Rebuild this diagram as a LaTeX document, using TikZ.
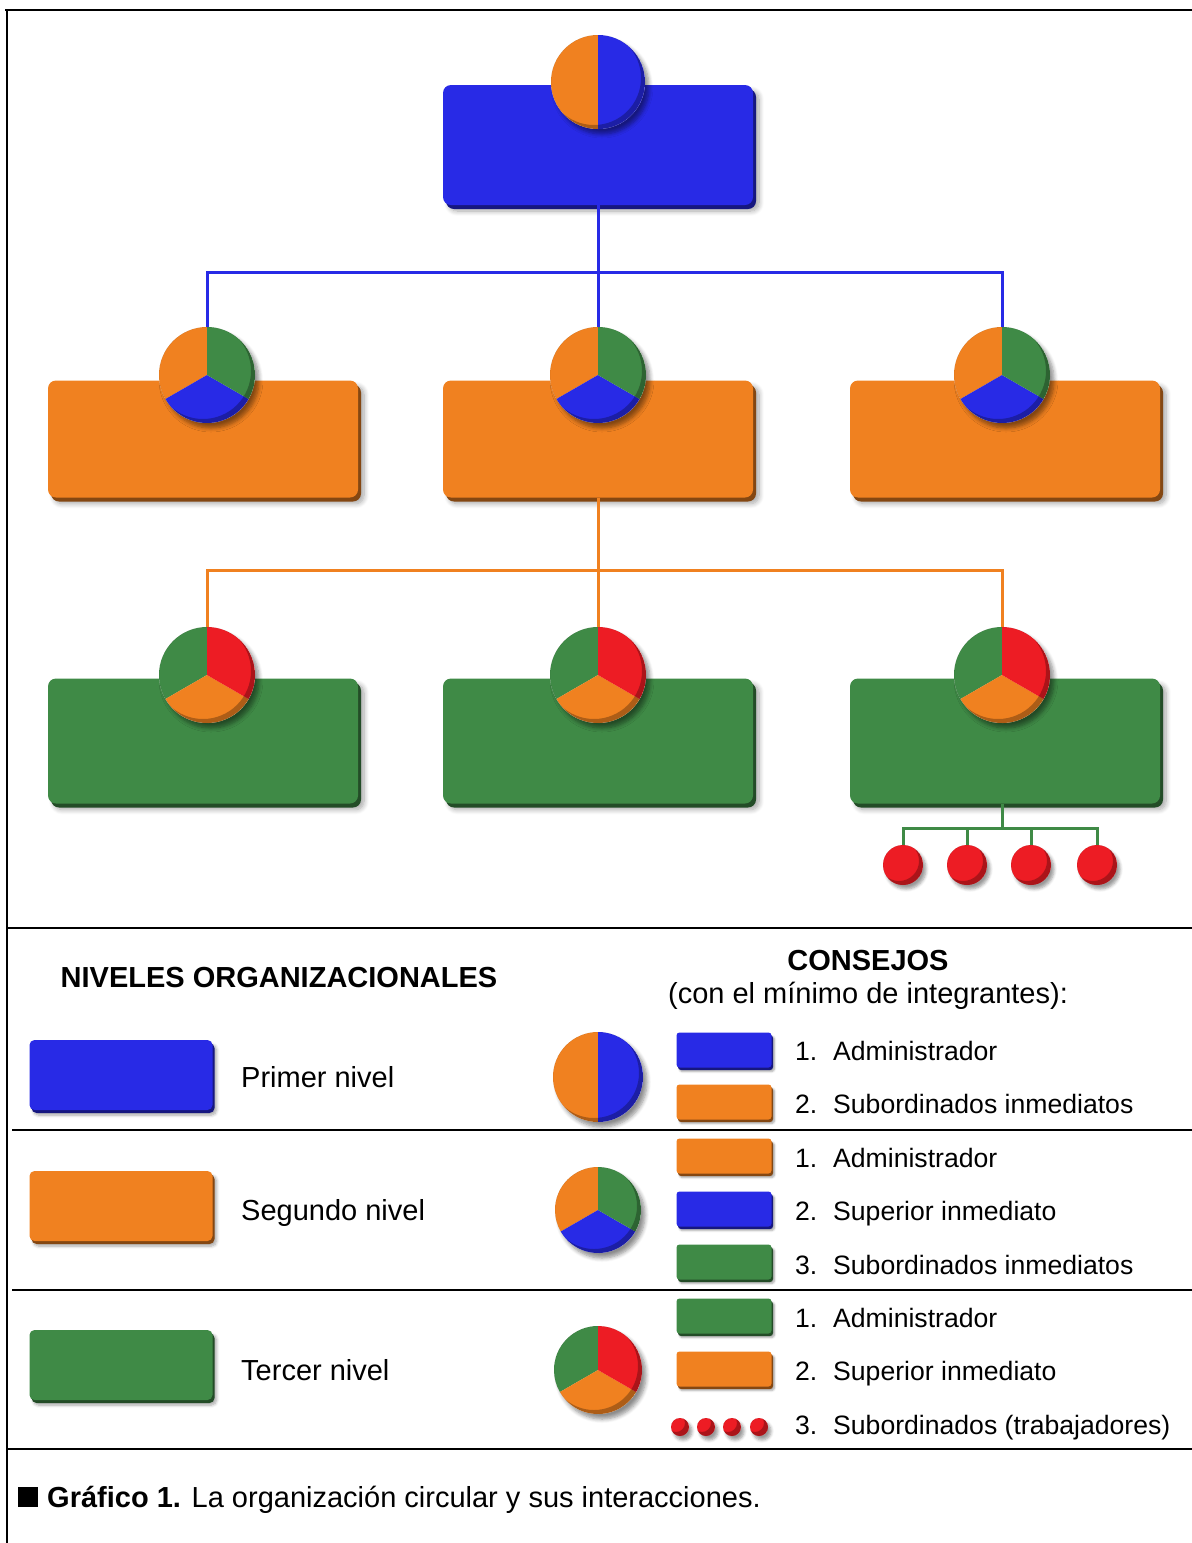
\documentclass[tikz,border=0pt]{standalone}
\usepackage{fontspec}
\setmainfont{Liberation Sans}
\usetikzlibrary{shadows,shadows.blur}
\definecolor{cBlue}{RGB}{40,42,230}
\definecolor{cOrange}{RGB}{240,129,32}
\definecolor{cGreen}{RGB}{63,138,70}
\definecolor{cRed}{RGB}{237,28,36}

% dark rim on the lower right of a round marker
\newcommand{\piebevel}[2]{%
  \begin{scope}
    \clip (#1.center) circle[radius=#2];
    \fill[black,opacity=.28,even odd rule] (#1.center) circle[radius=#2]
      ([shift={(-4,4)}]#1.center) circle[radius=#2];
  \end{scope}}
% two-part marker: left half, right half
\newcommand{\pietwo}[4]{%
  \fill[#3] (#1.center) -- ++(90:#2) arc[start angle=90,end angle=270,radius=#2] -- cycle;
  \fill[#4] (#1.center) -- ++(-90:#2) arc[start angle=-90,end angle=90,radius=#2] -- cycle;
  \piebevel{#1}{#2}}
% three-part marker: upper left, bottom, upper right
\newcommand{\piethree}[5]{%
  \fill[#3] (#1.center) -- ++(90:#2) arc[start angle=90,end angle=210,radius=#2] -- cycle;
  \fill[#4] (#1.center) -- ++(210:#2) arc[start angle=210,end angle=330,radius=#2] -- cycle;
  \fill[#5] (#1.center) -- ++(-30:#2) arc[start angle=-30,end angle=90,radius=#2] -- cycle;
  \piebevel{#1}{#2}}

\begin{document}
\begin{tikzpicture}[x=1pt,y=1pt,
  frame/.style={line width=2.4pt,black},
  link/.style={line width=3pt},
  big/.style={font=\fontsize{29}{34}\selectfont,inner sep=0pt},
  small/.style={font=\fontsize{26.6}{31}\selectfont,inner sep=0pt},
  softshadow/.style={blur shadow={shadow xshift=6pt,shadow yshift=-6pt,
      shadow blur radius=5pt,shadow blur steps=8,shadow opacity=35}},
  unitbox/.style={rounded corners=8pt,inner sep=0pt,softshadow,
      general shadow={fill=#1!55!black,shadow xshift=3pt,shadow yshift=-4pt},
      fill=#1},
  keybox/.style={rounded corners=5pt,inner sep=0pt,
      blur shadow={shadow xshift=4pt,shadow yshift=-5pt,shadow blur radius=3pt,
      shadow blur steps=6,shadow opacity=35},
      general shadow={fill=#1!55!black,shadow xshift=2pt,shadow yshift=-3pt},
      fill=#1,minimum width=183pt,minimum height=70pt},
  chip/.style={rounded corners=3pt,inner sep=0pt,
      blur shadow={shadow xshift=3pt,shadow yshift=-4pt,shadow blur radius=2pt,
      shadow blur steps=5,shadow opacity=35},
      general shadow={fill=#1!55!black,shadow xshift=1.5pt,shadow yshift=-2.5pt},
      fill=#1,minimum width=95pt,minimum height=35pt},
  pienode/.style={circle,inner sep=0pt,fill=white,
      blur shadow={shadow xshift=4pt,shadow yshift=-5pt,shadow blur radius=4pt,
      shadow blur steps=6,shadow opacity=45}},
  dotnode/.style={circle,inner sep=0pt,fill=cRed,
      blur shadow={shadow xshift=3pt,shadow yshift=-4pt,shadow blur radius=3pt,
      shadow blur steps=5,shadow opacity=40}},
]
\useasboundingbox (0,0) rectangle (1192,-1543);

% ---------- frame ----------
\draw[frame] (5,-10) -- (1192,-10);
\draw[frame] (7,-10) -- (7,-1543);
\draw[frame] (7,-928) -- (1192,-928);
\draw[frame] (12,-1130) -- (1192,-1130);
\draw[frame] (12,-1290) -- (1192,-1290);
\draw[frame] (7,-1449) -- (1192,-1449);

% ---------- organisation chart ----------
\node[unitbox=cBlue,minimum width=310pt,minimum height=120pt] (top) at (598,-145) {};

\node[unitbox=cOrange,minimum width=310pt,minimum height=117pt] (b21) at (203,-439) {};
\node[unitbox=cOrange,minimum width=310pt,minimum height=117pt] (b22) at (598,-439) {};
\node[unitbox=cOrange,minimum width=310pt,minimum height=117pt] (b23) at (1005,-439) {};

\node[unitbox=cGreen,minimum width=310pt,minimum height=125pt] (b31) at (203,-741) {};
\node[unitbox=cGreen,minimum width=310pt,minimum height=125pt] (b32) at (598,-741) {};
\node[unitbox=cGreen,minimum width=310pt,minimum height=125pt] (b33) at (1005,-741) {};

\node[pienode,minimum size=94pt] (p0) at (598,-82) {};
\pietwo{p0}{47}{cOrange}{cBlue}

\node[pienode,minimum size=96pt] (p21) at (207,-375) {};
\node[pienode,minimum size=96pt] (p22) at (598,-375) {};
\node[pienode,minimum size=96pt] (p23) at (1002,-375) {};
\piethree{p21}{48}{cOrange}{cBlue}{cGreen}
\piethree{p22}{48}{cOrange}{cBlue}{cGreen}
\piethree{p23}{48}{cOrange}{cBlue}{cGreen}

\node[pienode,minimum size=96pt] (p31) at (207,-675) {};
\node[pienode,minimum size=96pt] (p32) at (598,-675) {};
\node[pienode,minimum size=96pt] (p33) at (1002,-675) {};
\piethree{p31}{48}{cGreen}{cOrange}{cRed}
\piethree{p32}{48}{cGreen}{cOrange}{cRed}
\piethree{p33}{48}{cGreen}{cOrange}{cRed}

\node[dotnode,minimum size=40pt] (r1) at (903,-865) {};
\node[dotnode,minimum size=40pt] (r2) at (967,-865) {};
\node[dotnode,minimum size=40pt] (r3) at (1031,-865) {};
\node[dotnode,minimum size=40pt] (r4) at (1097,-865) {};
\piebevel{r1}{20}\piebevel{r2}{20}\piebevel{r3}{20}\piebevel{r4}{20}

% junctions of the connector trees
\coordinate (jb) at (598,-272);
\coordinate (jo) at (598,-570);
\coordinate (jg) at (1002,-828);

\draw[link,cBlue] (top.south) -- (p22.north);
\draw[link,cBlue] (p21.north) |- (jb) -| (p23.north);
\draw[link,cOrange] (b22.south) -- (p32.north);
\draw[link,cOrange] (p31.north) |- (jo) -| (p33.north);
\draw[link,cGreen] (jg |- b33.south) -- (jg);
\draw[link,cGreen] (r1.north) |- (jg) -| (r4.north);
\draw[link,cGreen] (r2.north) -- (r2.north |- jg);
\draw[link,cGreen] (r3.north) -- (r3.north |- jg);

% ---------- key ----------
\node[big,anchor=base] (hniv) at (279,-987) {\bfseries NIVELES ORGANIZACIONALES};
\node[big,anchor=base] (hcons) at (868,-970) {\bfseries CONSEJOS};
\node[big,anchor=base] (hcons2) at (868,-1003) {(con el mínimo de integrantes):};

\node[keybox=cBlue] (k1) at (121,-1075) {};
\node[keybox=cOrange] (k2) at (121,-1206) {};
\node[keybox=cGreen] (k3) at (121,-1365) {};
\node[big,anchor=base west] (l1) at (241,-1087) {Primer nivel};
\node[big,anchor=base west] (l2) at (241,-1220) {Segundo nivel};
\node[big,anchor=base west] (l3) at (241,-1380) {Tercer nivel};

\node[pienode,minimum size=90pt] (q1) at (598,-1077) {};
\pietwo{q1}{45}{cOrange}{cBlue}
\node[pienode,minimum size=86pt] (q2) at (598,-1210) {};
\piethree{q2}{43}{cOrange}{cBlue}{cGreen}
\node[pienode,minimum size=88pt] (q3) at (598,-1370) {};
\piethree{q3}{44}{cGreen}{cOrange}{cRed}

\node[chip=cBlue]   (c1) at (724,-1050) {};
\node[chip=cOrange] (c2) at (724,-1102) {};
\node[chip=cOrange] (c3) at (724,-1156) {};
\node[chip=cBlue]   (c4) at (724,-1209) {};
\node[chip=cGreen]  (c5) at (724,-1262) {};
\node[chip=cGreen]  (c6) at (724,-1316) {};
\node[chip=cOrange] (c7) at (724,-1369) {};
\node[dotnode,minimum size=18pt] (d1) at (680,-1427) {};
\node[dotnode,minimum size=18pt] (d2) at (706,-1427) {};
\node[dotnode,minimum size=18pt] (d3) at (732,-1427) {};
\node[dotnode,minimum size=18pt] (d4) at (759,-1427) {};
\piebevel{d1}{9}\piebevel{d2}{9}\piebevel{d3}{9}\piebevel{d4}{9}

\node[small,anchor=base west] (t1) at (795,-1060) {\makebox[38pt][l]{1.}Administrador};
\node[small,anchor=base west] (t2) at (795,-1113) {\makebox[38pt][l]{2.}Subordinados inmediatos};
\node[small,anchor=base west] (t3) at (795,-1167) {\makebox[38pt][l]{1.}Administrador};
\node[small,anchor=base west] (t4) at (795,-1220) {\makebox[38pt][l]{2.}Superior inmediato};
\node[small,anchor=base west] (t5) at (795,-1274) {\makebox[38pt][l]{3.}Subordinados inmediatos};
\node[small,anchor=base west] (t6) at (795,-1327) {\makebox[38pt][l]{1.}Administrador};
\node[small,anchor=base west] (t7) at (795,-1380) {\makebox[38pt][l]{2.}Superior inmediato};
\node[small,anchor=base west] (t8) at (795,-1434) {\makebox[38pt][l]{3.}Subordinados (trabajadores)};

% ---------- caption ----------
\node[big,anchor=base west] (cap) at (18,-1507)
  {\rule{20pt}{20pt}\hspace{9pt}\textbf{Gráfico 1.} La organización circular y sus interacciones.};
\end{tikzpicture}
\end{document}
